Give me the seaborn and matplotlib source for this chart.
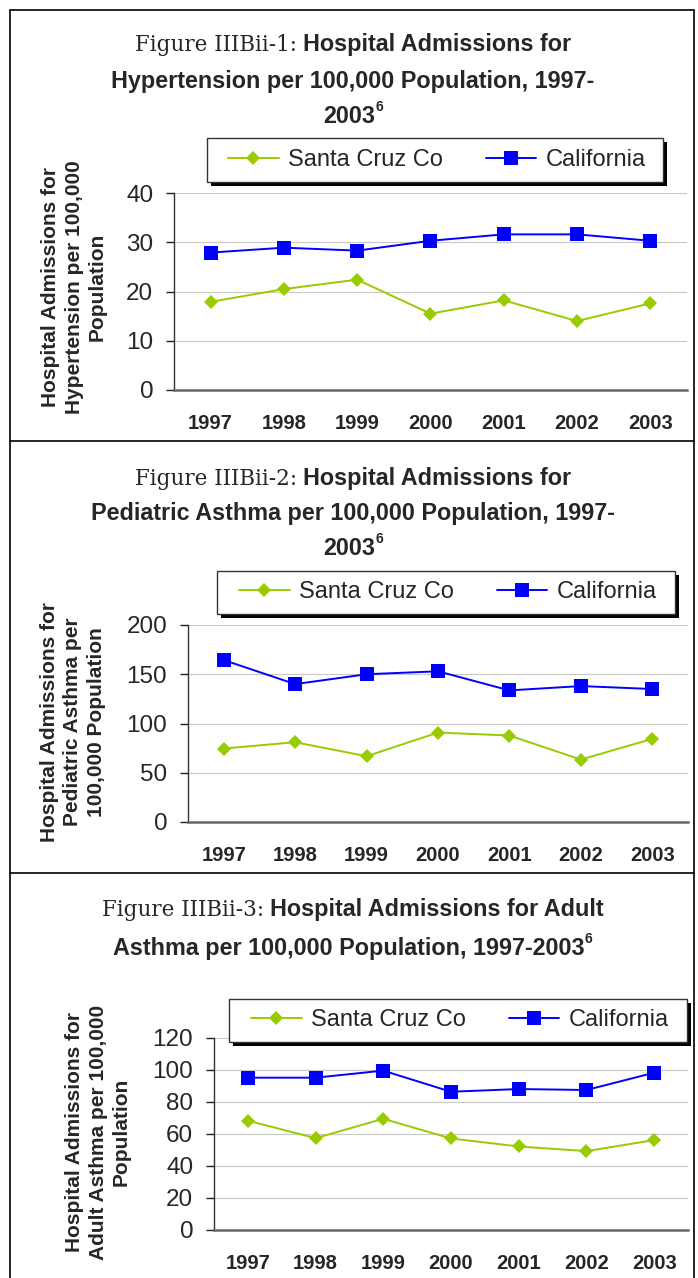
import numpy as np
import pandas as pd
import seaborn as sns
import matplotlib.pyplot as plt
from matplotlib.patches import Rectangle
from matplotlib.lines import Line2D

# data
years = [1997, 1998, 1999, 2000, 2001, 2002, 2003]
series = ["Santa Cruz Co", "California"]

hyp_santa_cruz = [17.9, 20.5, 22.4, 15.5, 18.2, 14.0, 17.6]
hyp_california = [27.9, 28.9, 28.3, 30.3, 31.6, 31.6, 30.3]
ped_santa_cruz = [74.6, 81.0, 66.8, 90.8, 87.8, 63.4, 84.4]
ped_california = [164.4, 140.0, 150.0, 153.0, 133.6, 138.0, 135.0]
adu_santa_cruz = [68.3, 57.4, 69.5, 57.2, 52.2, 49.3, 56.2]
adu_california = [95.2, 95.2, 99.6, 86.4, 88.1, 87.5, 98.3]

GREEN = "#99CC00"
BLUE = "#0000FF"

sns.set_style("white")
plt.rcParams["font.family"] = ["Liberation Sans", "DejaVu Sans"]

W, H = 698, 1278
fig = plt.figure(figsize=(W / 100, H / 100), dpi=100)
fig.patch.set_facecolor("white")


def fx(x):
    return x / W


def fy(y):
    return 1 - y / H


panels = [
    dict(sc=hyp_santa_cruz, ca=hyp_california, ymax=40, step=10,
         axbox=(174, 193, 687, 390), legbox=(207, 138, 663, 182),
         ylab="Hospital Admissions for\nHypertension per 100,000\nPopulation",
         ylab_xy=(74, 287),
         title=[([("Figure IIIBii-1:", "serif"), ("Hospital Admissions for", "bold")], 43),
                ([("Hypertension per 100,000 Population, 1997-", "bold")], 80),
                ([("2003", "bold"), ("6", "sup")], 115)]),
    dict(sc=ped_santa_cruz, ca=ped_california, ymax=200, step=50,
         axbox=(188, 625, 688, 822), legbox=(217, 571, 675, 614),
         ylab="Hospital Admissions for\nPediatric Asthma per\n100,000 Population",
         ylab_xy=(73, 722),
         title=[([("Figure IIIBii-2:", "serif"), ("Hospital Admissions for", "bold")], 477),
                ([("Pediatric Asthma per 100,000 Population, 1997-", "bold")], 512),
                ([("2003", "bold"), ("6", "sup")], 547)]),
    dict(sc=adu_santa_cruz, ca=adu_california, ymax=120, step=20,
         axbox=(214, 1038, 688, 1230), legbox=(229, 999, 687, 1042),
         ylab="Hospital Admissions for\nAdult Asthma per 100,000\nPopulation",
         ylab_xy=(98, 1132),
         title=[([("Figure IIIBii-3:", "serif"), ("Hospital Admissions for Adult", "bold")], 908),
                ([("Asthma per 100,000 Population, 1997-2003", "bold"), ("6", "sup")], 947)]),
]

renderer = fig.canvas.get_renderer()


def title_row(segs, cy, cx=353):
    texts = []
    for s, kind in segs:
        if kind == "serif":
            t = fig.text(0, fy(cy + 8), s, ha="left", va="baseline",
                         family="DejaVu Serif", fontsize=15.5)
        elif kind == "sup":
            t = fig.text(0, fy(cy - 4), s, ha="left", va="baseline",
                         fontsize=10, fontweight="bold")
        else:
            t = fig.text(0, fy(cy + 8), s, ha="left", va="baseline",
                         fontsize=16.8, fontweight="bold")
        texts.append((t, kind))
    widths = [t.get_window_extent(renderer).width for t, _ in texts]
    gaps = [6 if k == "bold" and i > 0 else 0 for i, (_, k) in enumerate(texts)]
    total = sum(widths) + sum(gaps[1:])
    x = cx - total / 2
    for i, ((t, k), w) in enumerate(zip(texts, widths)):
        if i > 0:
            x += gaps[i]
        t.set_x(fx(x))
        x += w


for p in panels:
    l, t, r, b = p["axbox"]
    ax = fig.add_axes([fx(l), fy(b), (r - l) / W, (b - t) / H])
    df = pd.DataFrame({
        "Year": years + years,
        "Rate": p["sc"] + p["ca"],
        "Series": [series[0]] * len(years) + [series[1]] * len(years),
    })
    sns.lineplot(data=df, x="Year", y="Rate", hue="Series", style="Series",
                 palette={series[0]: GREEN, series[1]: BLUE},
                 markers={series[0]: "D", series[1]: "s"}, dashes=False,
                 linewidth=1.4, markersize=9.5, markeredgewidth=0,
                 legend=False, ax=ax)
    lines = ax.get_lines()[:2]
    for ln in lines:
        if ln.get_marker() == "D":
            ln.set_markersize(7.6)

    ax.set_xlim(years[0] - 0.5, years[-1] + 0.5)
    ax.set_ylim(0, p["ymax"])
    ax.set_yticks(np.arange(0, p["ymax"] + 1, p["step"]))
    ax.set_xticks(years)
    ax.set_xticks(np.arange(years[0] - 0.5, years[-1] + 1), minor=True)
    ax.set_xticklabels([str(y) for y in years], fontsize=14.5, fontweight="bold")
    ax.tick_params(axis="x", which="major", length=0, pad=17)
    ax.tick_params(axis="x", which="minor", length=5, width=1, color="#222", direction="out")
    ax.tick_params(axis="y", length=6, width=1, color="#222", direction="out",
                   pad=9, labelsize=17.5, left=True)
    ax.yaxis.grid(True, color="#c8c8c8", linewidth=0.8)
    ax.xaxis.grid(False)
    ax.set_xlabel("")
    ax.set_ylabel("")
    for side in ["top", "right"]:
        ax.spines[side].set_visible(False)
    ax.spines["left"].set_color("#333333")
    ax.spines["left"].set_linewidth(1.0)
    ax.spines["bottom"].set_color("#666666")
    ax.spines["bottom"].set_linewidth(1.8)

    # y label
    fig.text(fx(p["ylab_xy"][0]), fy(p["ylab_xy"][1]), p["ylab"], rotation=90,
             ha="center", va="center", multialignment="center",
             fontsize=15, fontweight="bold", linespacing=1.3)

    # legend box with shadow
    x0, y0, x1, y1 = p["legbox"]
    fig.add_artist(Rectangle((fx(x0 + 4), fy(y1 + 4)), (x1 - x0) / W, (y1 - y0) / H,
                             transform=fig.transFigure, facecolor="black",
                             edgecolor="none", zorder=3))
    fig.add_artist(Rectangle((fx(x0), fy(y1)), (x1 - x0) / W, (y1 - y0) / H,
                             transform=fig.transFigure, facecolor="white",
                             edgecolor="#333333", linewidth=1.0, zorder=3.5))
    leg = fig.legend(lines, series, loc="center",
                     bbox_to_anchor=(fx((x0 + x1) / 2 + 2), fy((y0 + y1) / 2)),
                     ncol=2, frameon=False, fontsize=17, handlelength=2.15,
                     handletextpad=0.4, columnspacing=1.8, borderpad=0)
    leg.set_zorder(5)

    for segs, cy in p["title"]:
        title_row(segs, cy)

# panel borders
border = dict(transform=fig.transFigure, color="black", linewidth=1.2)
fig.add_artist(Line2D([fx(10), fx(694)], [fy(10), fy(10)], **border))
fig.add_artist(Line2D([fx(10), fx(10)], [fy(10), fy(1278)], **border))
fig.add_artist(Line2D([fx(694), fx(694)], [fy(10), fy(1278)], **border))
fig.add_artist(Line2D([fx(10), fx(694)], [fy(441), fy(441)], **border))
fig.add_artist(Line2D([fx(10), fx(694)], [fy(873), fy(873)], **border))

fig.savefig("out.png", dpi=100)
